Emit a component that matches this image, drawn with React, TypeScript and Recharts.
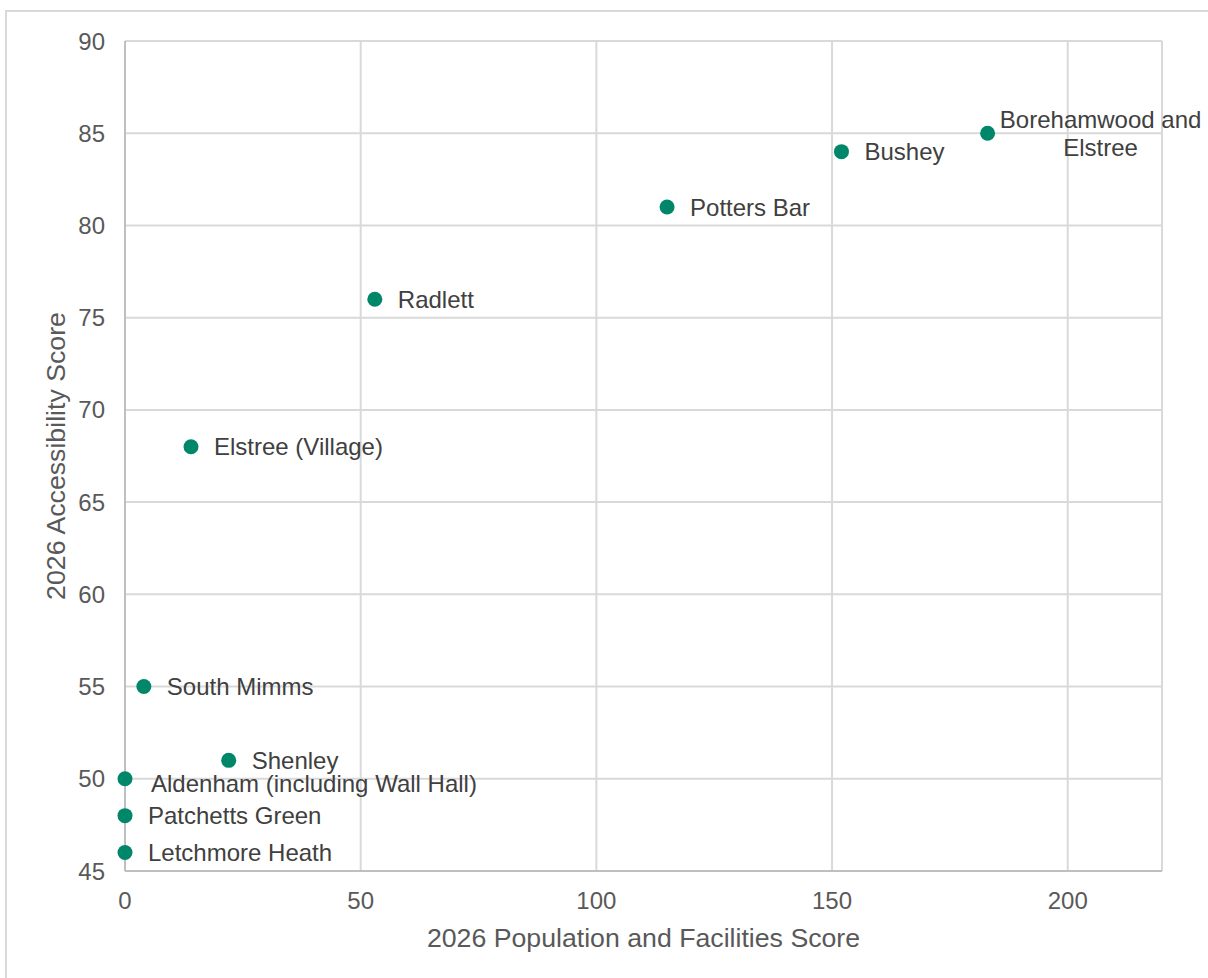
import React from 'react';
import { ScatterChart, Scatter, XAxis, YAxis, CartesianGrid } from 'recharts';

const places = [
  'Borehamwood and Elstree',
  'Bushey',
  'Potters Bar',
  'Radlett',
  'Elstree (Village)',
  'South Mimms',
  'Shenley',
  'Aldenham (including Wall Hall)',
  'Patchetts Green',
  'Letchmore Heath',
];
const populationScores = [183, 152, 115, 53, 14, 4, 22, 0, 0, 0];
const accessibilityScores = [85, 84, 81, 76, 68, 55, 51, 50, 48, 46];
const xTicks = [0, 50, 100, 150, 200];
const yTicks = [45, 50, 55, 60, 65, 70, 75, 80, 85, 90];

const data = places.map((name, i) => ({
  name,
  x: populationScores[i],
  y: accessibilityScores[i],
}));

// label placement styling (offsets from the point, in px)
const labelStyle: Record<string, { dx: number; dy: number; lines?: string[]; center?: boolean }> = {
  'Borehamwood and Elstree': { dx: 113, dy: 0, lines: ['Borehamwood and', 'Elstree'], center: true },
  'Aldenham (including Wall Hall)': { dx: 26, dy: 5 },
};

const FONT = '"Liberation Sans", Arial, sans-serif';
const GREEN = '#00876A';

const PointShape = (props: any) => {
  const { cx, cy, payload } = props;
  if (cx == null || cy == null) return null;
  const st = labelStyle[payload.name] || { dx: 23, dy: 0 };
  const lines = st.lines || [payload.name];
  const lh = 28;
  return (
    <g>
      <circle cx={cx} cy={cy} r={7.5} fill={GREEN} />
      <text
        x={cx + st.dx}
        y={cy + st.dy}
        fill="#404040"
        fontSize={24}
        fontFamily={FONT}
        textAnchor={st.center ? 'middle' : 'start'}
      >
        {lines.map((l, i) => (
          <tspan
            key={i}
            x={cx + st.dx}
            y={cy + st.dy + (i - (lines.length - 1) / 2) * lh}
            dy="0.36em"
          >
            {l}
          </tspan>
        ))}
      </text>
    </g>
  );
};

const XTitle = (props: any) => {
  const vb = props.viewBox || {};
  return (
    <text
      x={vb.x + vb.width / 2}
      y={vb.y + 66}
      dy="0.36em"
      textAnchor="middle"
      fill="#595959"
      fontSize={26.7}
      fontFamily={FONT}
    >
      2026 Population and Facilities Score
    </text>
  );
};

const YTitle = (props: any) => {
  const vb = props.viewBox || {};
  const x = vb.x + 55;
  const y = vb.y + vb.height / 2;
  return (
    <text
      x={x}
      y={y}
      dy="0.36em"
      textAnchor="middle"
      fill="#595959"
      fontSize={26.7}
      fontFamily={FONT}
      transform={`rotate(-90, ${x}, ${y})`}
    >
      2026 Accessibility Score
    </text>
  );
};

export default function App() {
  return (
    <div style={{ position: 'absolute', left: 0, top: 0, width: 1208, height: 978, overflow: 'hidden', background: '#fff' }}>
      <div
        style={{
          position: 'absolute',
          left: 5,
          top: 10,
          width: 1300,
          height: 1100,
          border: '2px solid #d9d9d9',
          boxSizing: 'border-box',
        }}
      />
      <div style={{ position: 'absolute', left: 0, top: 0 }}>
        <ScatterChart
          width={1208}
          height={978}
          margin={{ top: 41, right: 46, left: 0, bottom: 0 }}
          style={{ overflow: 'visible' }}
        >
          <CartesianGrid stroke="#d9d9d9" strokeWidth={2} />
          <XAxis
            type="number"
            dataKey="x"
            domain={[0, 220]}
            ticks={xTicks}
            height={107}
            tickLine={false}
            tickSize={0}
            tickMargin={21}
            axisLine={{ stroke: '#bfbfbf', strokeWidth: 2 }}
            tick={{ fill: '#595959', fontSize: 24, fontFamily: FONT }}
            label={<XTitle />}
          />
          <YAxis
            type="number"
            dataKey="y"
            domain={[45, 90]}
            ticks={yTicks}
            width={125}
            tickLine={false}
            tickSize={0}
            tickMargin={20}
            axisLine={{ stroke: '#bfbfbf', strokeWidth: 2 }}
            tick={{ fill: '#595959', fontSize: 24, fontFamily: FONT }}
            label={<YTitle />}
          />
          <Scatter data={data} fill={GREEN} shape={<PointShape />} isAnimationActive={false} />
        </ScatterChart>
      </div>
    </div>
  );
}
